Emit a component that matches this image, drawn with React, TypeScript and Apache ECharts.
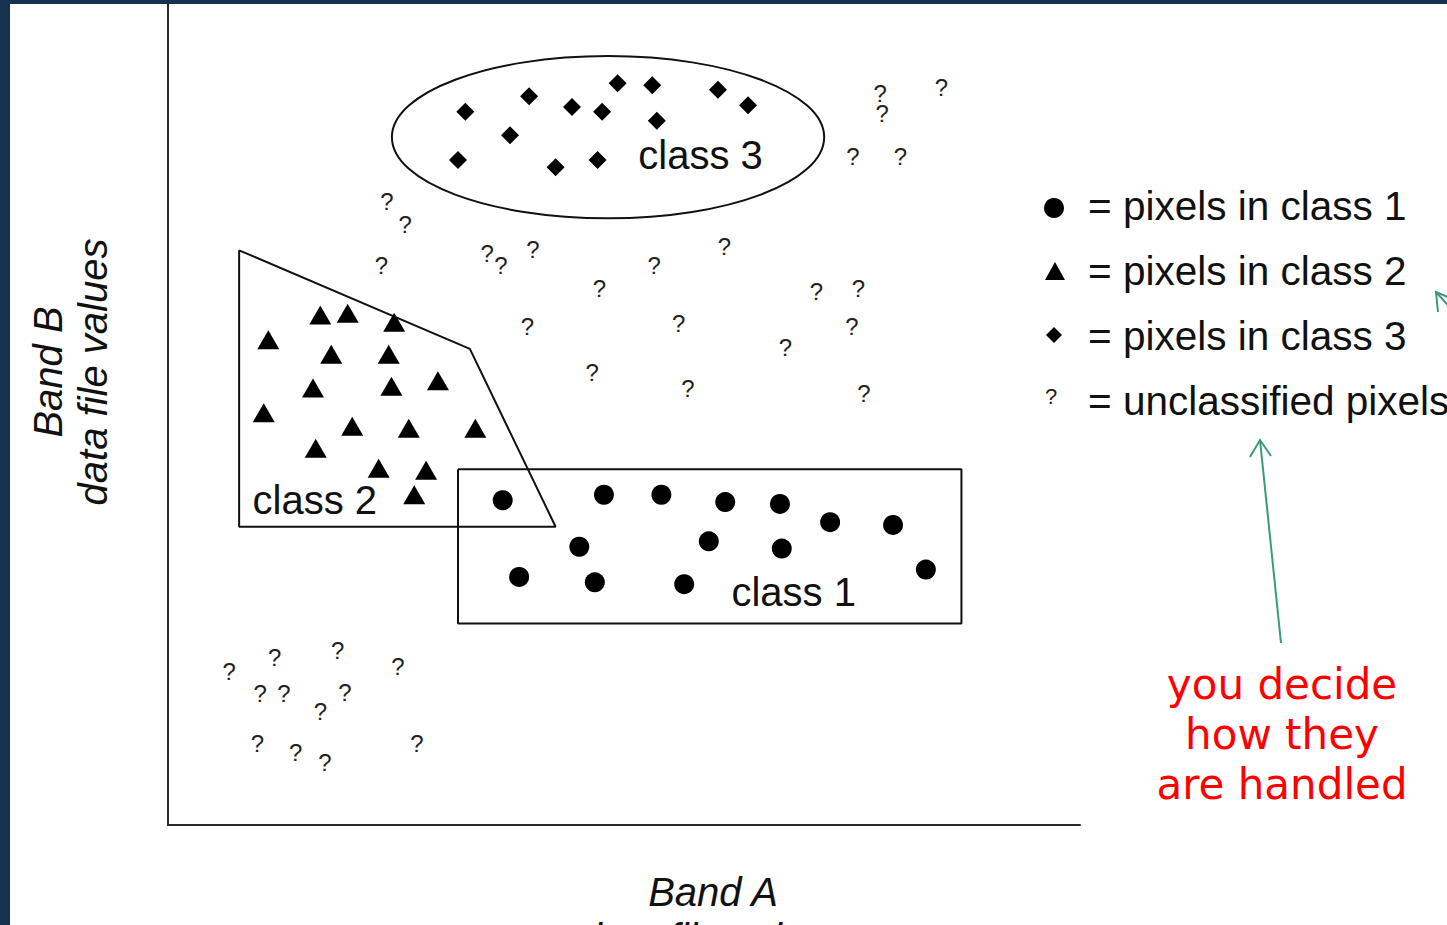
import React, { useEffect, useRef } from "react";
import * as echarts from "echarts";

// Band A (x) / Band B (y) data file values
const class1Pixels: number[][] = [
  [36.7, 35.6], [47.8, 36.2], [54.1, 36.2], [61.1, 35.4], [67.1, 35.2],
  [72.6, 33.2], [79.5, 32.9], [45.1, 30.5], [59.3, 31.1], [67.3, 30.3],
  [38.5, 27.2], [46.8, 26.6], [56.6, 26.4], [83.1, 28.0],
];
const class2Pixels: number[][] = [
  [16.7, 55.9], [19.7, 56.1], [24.8, 55.1], [11.0, 53.2], [17.9, 51.6],
  [24.2, 51.6], [15.9, 47.9], [24.5, 48.1], [29.6, 48.7], [10.5, 45.2],
  [20.2, 43.7], [26.4, 43.5], [33.7, 43.5], [16.2, 41.3], [23.1, 39.1],
  [28.3, 38.9], [27.0, 36.2],
];
const class3Pixels: number[][] = [
  [32.6, 78.2], [39.6, 79.9], [44.3, 78.7], [47.6, 78.2], [49.3, 81.3],
  [53.1, 81.1], [60.3, 80.6], [63.6, 78.9], [53.6, 77.2], [37.5, 75.6],
  [31.8, 72.9], [42.5, 72.1], [47.1, 72.9],
];
const unclassifiedPixels: number[][] = [
  [78.1, 80.2], [78.3, 78.0], [84.8, 80.9], [75.1, 73.3], [80.3, 73.3],
  [24.0, 68.3], [26.0, 65.8], [23.4, 61.3], [35.0, 62.7], [36.5, 61.3],
  [40.0, 63.1], [53.3, 61.3], [61.0, 63.4], [47.3, 58.8], [71.1, 58.5],
  [75.7, 58.8], [39.4, 54.6], [56.0, 55.0], [75.0, 54.6], [67.7, 52.3],
  [46.5, 49.6], [57.0, 47.8], [76.3, 47.3],
  [6.7, 16.8], [11.7, 18.4], [18.6, 19.1], [25.2, 17.4], [10.1, 14.4],
  [12.7, 14.4], [16.7, 12.4], [19.4, 14.5], [9.8, 8.9], [14.0, 7.9],
  [17.2, 6.8], [27.3, 8.9],
];
// decision boundaries
const class1Box: number[][] = [[31.8, 39.0], [87.0, 39.0], [87.0, 22.1], [31.8, 22.1], [31.8, 39.0]];
const class2Polygon: number[][] = [[7.8, 63.0], [33.1, 52.2], [42.5, 32.7], [7.8, 32.7], [7.8, 63.0]];
const class3Ellipse: number[][] = [[48.25, 75.4, 23.7, 8.9]]; // cx, cy, rx, ry
const regionNames = ["class 1", "class 2", "class 3"];
const regionLabelPos: number[][] = [[68.6, 25.5], [16.1, 35.6], [58.4, 73.4]];
const legendTexts = ["= pixels in class 1", "= pixels in class 2", "= pixels in class 3", "= unclassified pixels"];
const noteLines = ["you decide", "how they", "are handled"];
const xTitle = ["Band A", "data file values"];
const yTitle = ["Band B", "data file values"];

const FONT = "'Liberation Sans', Arial, sans-serif";
const INK = "#111111";
const NAVY = "#17324f";
const GREEN = "#3a9a7c";

export default function App() {
  const ref = useRef<HTMLDivElement>(null);
  useEffect(() => {
    if (!ref.current) return;
    const chart = echarts.init(ref.current, undefined, { renderer: "svg" });
    const axisCommon = {
      type: "value" as const,
      axisLine: { show: true, lineStyle: { color: "#2a2a2a", width: 2 } },
      axisTick: { show: false },
      axisLabel: { show: false },
      splitLine: { show: false },
    };
    const lineStyle = { color: INK, width: 2 };
    const mark = { color: "#000", opacity: 1 };
    chart.setOption({
      animation: false,
      backgroundColor: "#ffffff",
      grid: { left: 168, top: 4, width: 912, height: 821 },
      xAxis: { ...axisCommon, min: 0, max: 100 },
      yAxis: { ...axisCommon, min: 0, max: 90 },
      series: [
        { type: "line", data: class1Box, symbol: "none", lineStyle, z: 3 },
        { type: "line", data: class2Polygon, symbol: "none", lineStyle, z: 3 },
        {
          type: "custom",
          data: class3Ellipse,
          z: 3,
          renderItem: (params: any, api: any) => {
            const c = api.coord([api.value(0), api.value(1)]);
            const s = api.size([api.value(2), api.value(3)]);
            return {
              type: "ellipse",
              shape: { cx: c[0], cy: c[1], rx: s[0], ry: s[1] },
              style: { fill: "none", stroke: INK, lineWidth: 2 },
            };
          },
        },
        {
          name: "class 1", type: "scatter", data: class1Pixels, symbol: "circle",
          symbolSize: 20, itemStyle: mark, z: 4,
        },
        {
          name: "class 2", type: "scatter", data: class2Pixels, symbol: "triangle",
          symbolSize: [22, 19], itemStyle: mark, z: 4,
        },
        {
          name: "class 3", type: "scatter", data: class3Pixels, symbol: "diamond",
          symbolSize: 18, itemStyle: mark, z: 4,
        },
        {
          name: "unclassified", type: "scatter", data: unclassifiedPixels, symbol: "circle",
          symbolSize: 1, itemStyle: { color: "rgba(0,0,0,0)", opacity: 1 }, z: 4,
          label: {
            show: true, position: "inside", formatter: "?", color: "#222",
            fontSize: 24, fontFamily: FONT,
          },
        },
        {
          type: "scatter",
          data: regionNames.map((n, i) => ({ name: n, value: regionLabelPos[i] })),
          symbolSize: 1, itemStyle: { color: "rgba(0,0,0,0)", opacity: 1 }, z: 5,
          label: {
            show: true, position: "inside", formatter: "{b}", color: INK,
            fontSize: 40, fontFamily: FONT,
          },
        },
      ],
      graphic: [
        { type: "rect", shape: { x: 0, y: 0, width: 10, height: 925 }, style: { fill: NAVY }, silent: true },
        { type: "rect", shape: { x: 0, y: 0, width: 1447, height: 4 }, style: { fill: NAVY }, silent: true },
        // axis titles
        {
          type: "text", x: 713, y: 869,
          style: {
            text: xTitle.join("\n"), fill: INK, font: `italic 40px ${FONT}`,
            align: "center", verticalAlign: "top", lineHeight: 46,
          },
        },
        {
          type: "text", x: 70, y: 372, rotation: Math.PI / 2,
          style: {
            text: yTitle.join("\n"), fill: INK, font: `italic 40px ${FONT}`,
            align: "center", verticalAlign: "middle", lineHeight: 45,
          },
        },
        // legend
        { type: "circle", shape: { cx: 1054, cy: 208, r: 10 }, style: { fill: "#000" } },
        { type: "polygon", shape: { points: [[1055, 262], [1045, 280], [1065, 280]] }, style: { fill: "#000" } },
        { type: "polygon", shape: { points: [[1054, 327], [1062, 335], [1054, 343], [1046, 335]] }, style: { fill: "#000" } },
        {
          type: "text", x: 1051, y: 396,
          style: { text: "?", fill: "#222", font: `22px ${FONT}`, align: "center", verticalAlign: "middle" },
        },
        ...legendTexts.map((t, i) => ({
          type: "text", x: 1088, y: 206 + i * 65,
          style: { text: t, fill: INK, font: `40.5px ${FONT}`, align: "left", verticalAlign: "middle" },
        })),
        // red note
        {
          type: "text", x: 1282, y: 734,
          style: {
            text: noteLines.join("\n"), fill: "#ff0000", font: `42px 'DejaVu Sans', Verdana, sans-serif`,
            align: "center", verticalAlign: "middle", lineHeight: 50,
          },
        },
        // green arrows
        { type: "line", shape: { x1: 1281, y1: 643, x2: 1260, y2: 440 }, style: { stroke: GREEN, lineWidth: 2 } },
        { type: "polyline", shape: { points: [[1250, 457], [1260, 440], [1271, 456]] }, style: { stroke: GREEN, lineWidth: 2, fill: "none" } },
        { type: "line", shape: { x1: 1436, y1: 292, x2: 1470, y2: 330 }, style: { stroke: GREEN, lineWidth: 2 } },
        { type: "polyline", shape: { points: [[1438, 312], [1436, 292], [1455, 300]] }, style: { stroke: GREEN, lineWidth: 2, fill: "none" } },
      ],
    });
    return () => chart.dispose();
  }, []);
  return (
    <div
      ref={ref}
      style={{ position: "fixed", left: 0, top: 0, width: 1447, height: 925, background: "#fff" }}
    />
  );
}
